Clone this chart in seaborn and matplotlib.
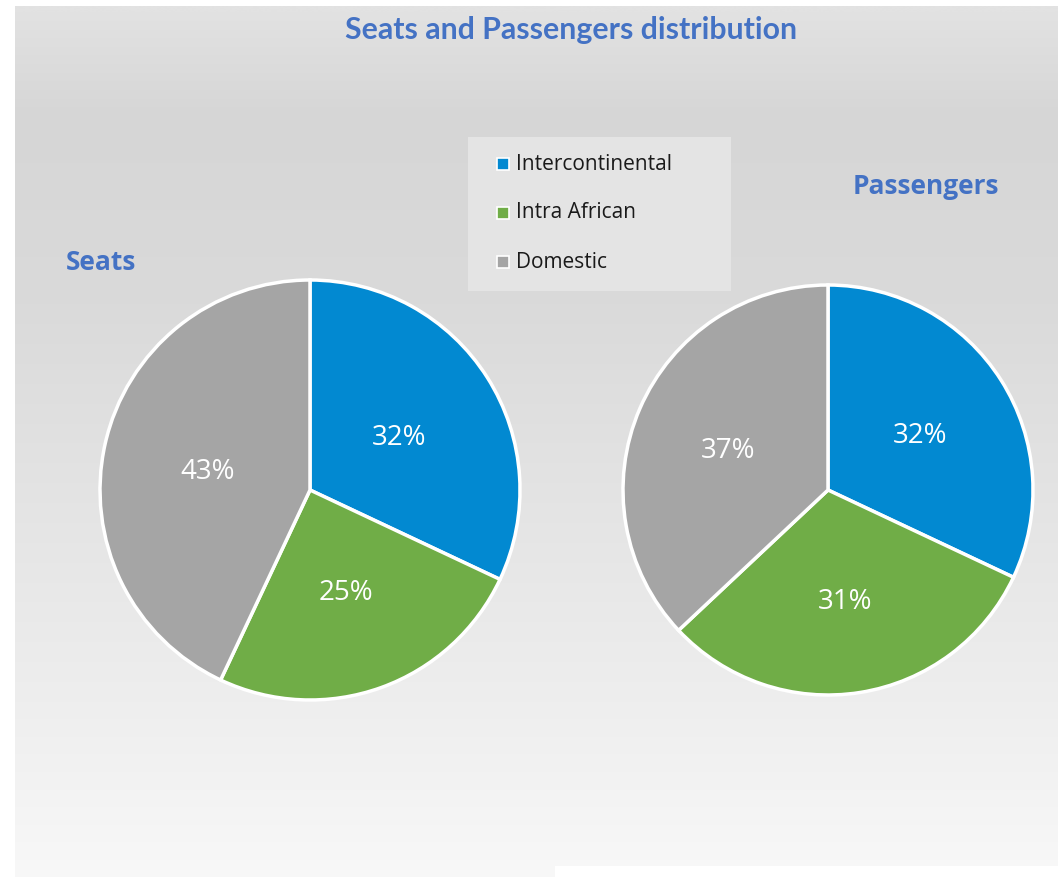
import numpy as np
import matplotlib
matplotlib.use("Agg")
import matplotlib.pyplot as plt
import seaborn as sns

# Route categories and shares (percent)
categories = ["Intercontinental", "Intra African", "Domestic"]
seats_share = [32, 25, 43]
passengers_share = [32, 31, 37]
panel_titles = ["Seats", "Passengers"]
chart_title = "Seats and Passengers distribution"

sns.set_theme(style="white")
plt.rcParams["font.family"] = ["Open Sans", "DejaVu Sans"]

palette = sns.color_palette(["#0289D1", "#70AD47", "#A5A5A5"])
title_blue = "#4472C4"

W, H = 1058, 877
fig = plt.figure(figsize=(W / 100, H / 100), dpi=100)
fig.patch.set_facecolor("white")

# Vertical grey gradient backdrop
bg = fig.add_axes([0, 0, 1, 1], zorder=-10)
bg.set_xlim(0, W)
bg.set_ylim(H, 0)
bg.axis("off")
ys = np.array([0, 6, 110, 300, 500, 700, 877])
vs = np.array([226, 226, 214, 218, 228, 238, 248]) / 255.0
rows = np.interp(np.arange(H), ys, vs)
grad = np.repeat(rows[:, None], 2, axis=1)
bg.imshow(np.dstack([grad, grad, grad]), extent=[15, W, 877, 6],
          aspect="auto", interpolation="bilinear")
bg.add_patch(plt.Rectangle((555, 866), W - 555, 11, color="white", lw=0))

fig.text(571 / W, 1 - 30 / H, chart_title, ha="center", va="center",
         fontsize=21.8, fontweight="bold", color=title_blue,
         family=["Lato", "Open Sans"])


def draw_pie(cx, cy, r, values, label_dist):
    pad = 1.04
    ax = fig.add_axes([(cx - r * pad) / W, 1 - (cy + r * pad) / H,
                       2 * r * pad / W, 2 * r * pad / H])
    _, _, autotexts = ax.pie(
        values, colors=palette, startangle=90, counterclock=False,
        autopct="%d%%", pctdistance=label_dist,
        wedgeprops=dict(edgecolor="white", linewidth=2.5),
        textprops=dict(color="white", fontsize=20))
    # nudge the percentage labels slightly downward
    for t in autotexts:
        x, y = t.get_position()
        t.set_position((x, y - 0.022))
    ax.set_xlim(-pad, pad)
    ax.set_ylim(-pad, pad)
    ax.set_aspect("auto")
    return ax


draw_pie(310, 490, 210, seats_share, 0.5)
draw_pie(828, 490, 205, passengers_share, 0.53)

fig.text(101 / W, 1 - 263 / H, panel_titles[0], ha="center", va="center",
         fontsize=19, fontweight="bold", color=title_blue)
fig.text(926 / W, 1 - 187 / H, panel_titles[1], ha="center", va="center",
         fontsize=19, fontweight="bold", color=title_blue)

# Legend panel
bg.add_patch(plt.Rectangle((468, 137), 263, 154, color="#e4e4e4", lw=0, zorder=2))
for i, (name, col) in enumerate(zip(categories, palette)):
    y = 164 + i * 49
    bg.add_patch(plt.Rectangle((497, y - 6), 12, 12, facecolor=col,
                               edgecolor="white", lw=1.2, zorder=3))
    bg.text(516, y, name, ha="left", va="center", fontsize=15,
            color="#1a1a1a", zorder=4)

fig.savefig("out.png", dpi=100)
